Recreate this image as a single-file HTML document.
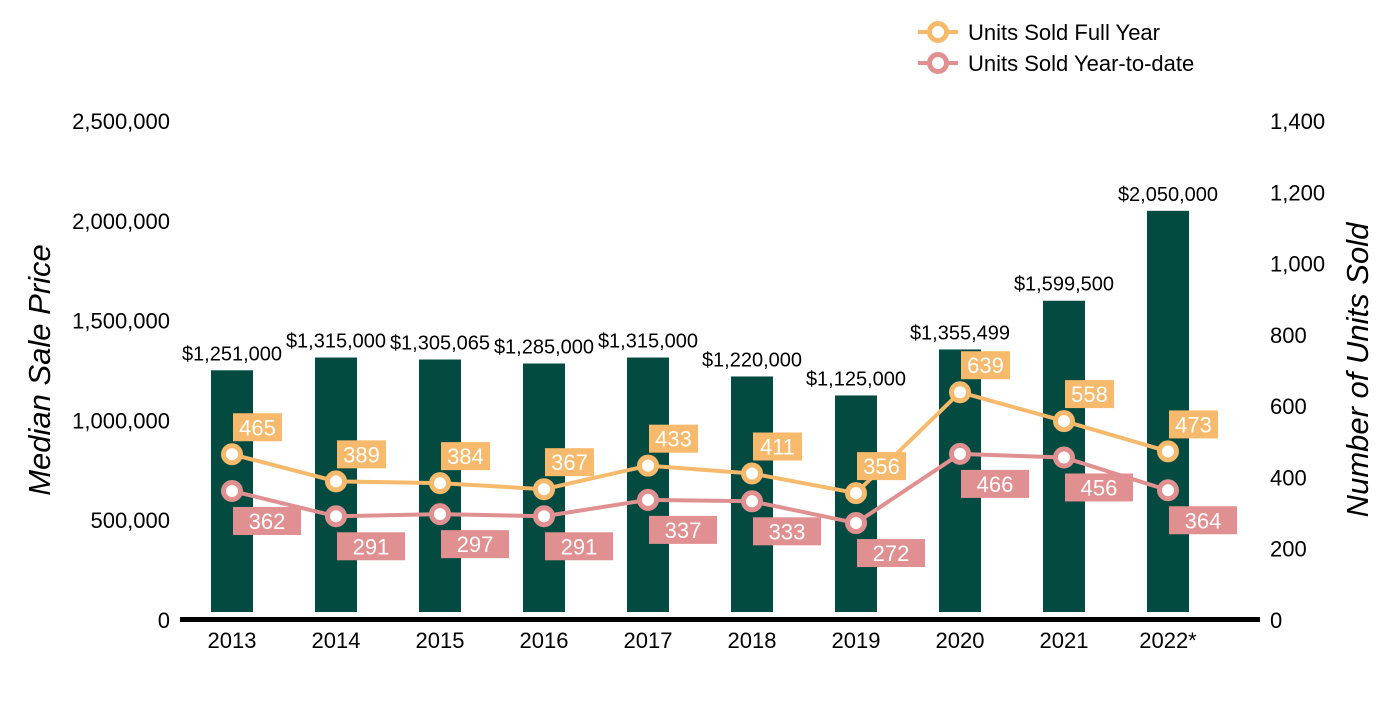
<!DOCTYPE html>
<html><head><meta charset="utf-8"><style>
body{margin:0;background:#fff;font-family:"Liberation Sans",Arial,sans-serif}
svg text{font-family:"Liberation Sans",Arial,sans-serif}
</style></head><body>
<svg id="c" width="1400" height="700"></svg>
<script>
const years=["2013","2014","2015","2016","2017","2018","2019","2020","2021","2022*"];
const prices=[1251000,1315000,1305065,1285000,1315000,1220000,1125000,1355499,1599500,2050000];
const priceLabels=["$1,251,000","$1,315,000","$1,305,065","$1,285,000","$1,315,000","$1,220,000","$1,125,000","$1,355,499","$1,599,500","$2,050,000"];
const fullYear=[465,389,384,367,433,411,356,639,558,473];
const ytd=[362,291,297,291,337,333,272,466,456,364];
const leftTicks=[0,500000,1000000,1500000,2000000,2500000];
const rightTicks=[0,200,400,600,800,1000,1200,1400];
const svg=document.getElementById('c');const NS='http://www.w3.org/2000/svg';
function el(t,a,txt){const e=document.createElementNS(NS,t);for(const k in a)e.setAttribute(k,a[k]);if(txt!==undefined)e.textContent=txt;svg.appendChild(e);return e;}
const y0=620,yTop=121;
const yL=v=>y0-(v/2500000)*(y0-yTop);
const yR=v=>y0-(v/1400)*(y0-yTop);
const xC=i=>232+i*104;
leftTicks.forEach(v=>{const t=el('text',{x:170,y:yL(v)+8,'text-anchor':'end','font-size':22,fill:'#000'},v.toLocaleString('en-US'));
});
rightTicks.forEach(v=>{const t=el('text',{x:1270,y:yR(v)+8,'font-size':22,fill:'#000'},v.toLocaleString('en-US'));
});
let t=el('text',{x:50,y:370,'text-anchor':'middle','font-size':31,'font-style':'italic',transform:'rotate(-90 50 370)'},'Median Sale Price');

t=el('text',{x:1368,y:370,'text-anchor':'middle','font-size':31,'font-style':'italic',transform:'rotate(-90 1368 370)'},'Number of Units Sold');

prices.forEach((v,i)=>{const b=el('rect',{x:xC(i)-21,y:yL(v),width:42,height:612-yL(v),fill:'#034a41'});

const l=el('text',{x:xC(i),y:yL(v)-10,'text-anchor':'middle','font-size':20,fill:'#000'},priceLabels[i]);
});
const ax=el('rect',{x:180,y:617,width:1080,height:5,fill:'#000'});

years.forEach((v,i)=>{const l=el('text',{x:xC(i),y:648,'text-anchor':'middle','font-size':22},v);
});
function series(arr,color,name,above){
 const p=el('polyline',{points:arr.map((v,i)=>xC(i)+','+yR(v)).join(' '),fill:'none',stroke:color,'stroke-width':4});
 
 arr.forEach((v,i)=>{const c=el('circle',{cx:xC(i),cy:yR(v),r:8.5,fill:'#fff',stroke:color,'stroke-width':5});
 
 const by=above?yR(v)-41:yR(v)+16;
 const w=above?49:68;
 const r=el('rect',{x:xC(i)+1,y:by,width:w,height:28,fill:color});
 
 const tx=el('text',{x:xC(i)+1+w/2,y:by+22,'text-anchor':'middle','font-size':22,fill:'#fff'},v);
 });
}
series(fullYear,'#f7b96b','full-year',true);
series(ytd,'#e09090','ytd',false);
[['Units Sold Full Year','#f7b96b',32],['Units Sold Year-to-date','#e09090',63]].forEach(([n,c,y])=>{
 const l=el('line',{x1:918,y1:y,x2:958,y2:y,stroke:c,'stroke-width':4});
 const ci=el('circle',{cx:938,cy:y,r:8.5,fill:'#fff',stroke:c,'stroke-width':5});
 const tx=el('text',{x:968,y:y+8,'font-size':22},n);});
</script></body></html>
